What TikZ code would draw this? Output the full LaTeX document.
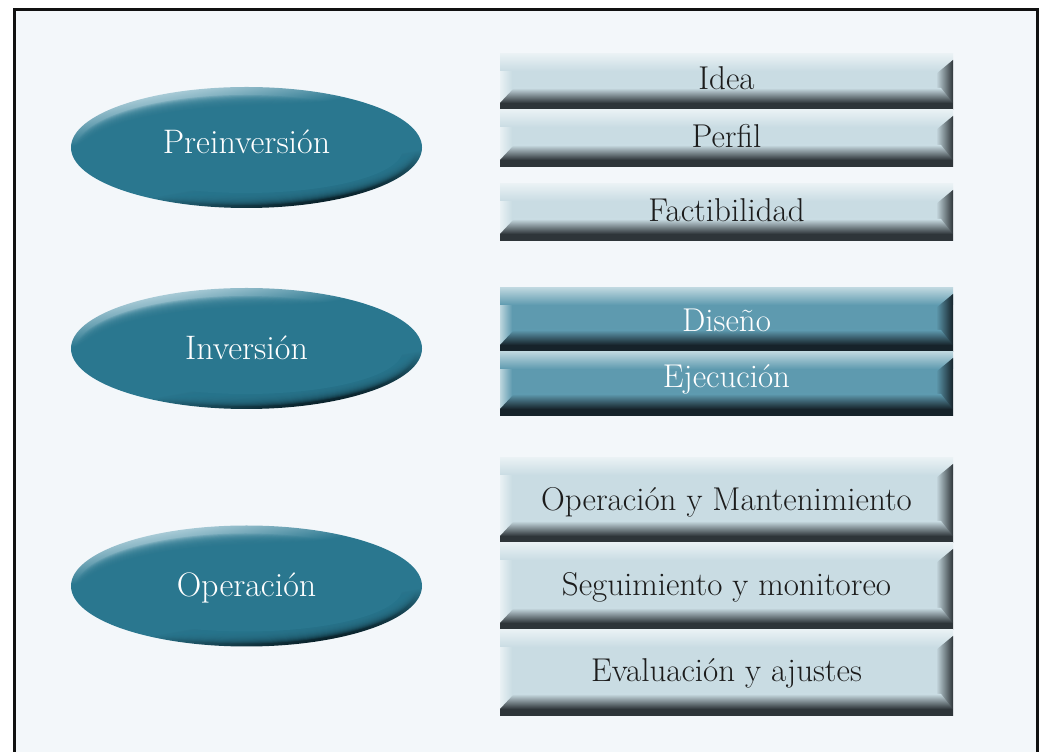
\documentclass[tikz,border=0pt]{standalone}
\usetikzlibrary{shapes.geometric,calc}
\definecolor{bg}{HTML}{F3F7FA}
\definecolor{framec}{HTML}{111111}
\definecolor{ovtop}{HTML}{B8D5DF}
\definecolor{ovmain}{HTML}{2A778F}
\definecolor{ovbot}{HTML}{04141A}
\definecolor{lbase}{HTML}{C9DCE3}
\definecolor{lhi}{HTML}{E9F1F4}
\definecolor{ldark}{HTML}{2E3539}
\definecolor{tbase}{HTML}{5E9AAF}
\definecolor{thi}{HTML}{BCD6DE}
\definecolor{tdark}{HTML}{16232A}
\definecolor{ltext}{HTML}{1C1C1C}
\pgfdeclareverticalshading{ovalshade}{100bp}{color(0bp)=(ovbot); color(41bp)=(ovbot); color(46bp)=(ovmain); color(54bp)=(ovmain); color(59bp)=(ovtop); color(100bp)=(ovtop)}
\tikzset{
  oval/.style={ellipse, minimum width=351pt, minimum height=121pt, inner sep=0pt,
    text=white, font=\fontsize{34}{36}\selectfont, text height=24pt,
    path picture={
      \coordinate (c) at (path picture bounding box.center);
      \shade[shading=ovalshade, shading angle=10]
        ($(c)+(-200,-200)$) rectangle ($(c)+(200,200)$);
      \foreach \k in {0,...,11}{
        \fill[ovmain, opacity=0.2] ($(c)+(-1,-2.5)$) ellipse [x radius={(170-1.1*\k)*1pt}, y radius={(55-1.05*\k)*1pt}];
      }
      \fill[ovmain] ($(c)+(-1,-2.5)$) ellipse [x radius=157pt, y radius=43pt];
    }},
  bevel/.style n args={3}{rectangle, minimum width=453pt, inner sep=0pt,
    font=\fontsize{33}{35}\selectfont, text height=24pt,
    path picture={
      \coordinate (sw) at (path picture bounding box.south west);
      \coordinate (ne) at (path picture bounding box.north east);
      \fill[#1] (sw) rectangle (ne);
      \shade[left color=#2, right color=#1] (sw) rectangle ($(sw|-ne)+(12,0)$);
      \shade[top color=#2, bottom color=#1] ($(sw|-ne)+(0,-17)$) rectangle (ne);
      \shade[left color=#1, right color=#3] ($(ne|-sw)+(-17,0)$) -- ($(ne)+(-17,-20)$) -- ($(ne)+(0,-6)$) -- (ne|-sw) -- cycle;
      \shade[top color=#1, bottom color=#3] ($(sw)+(14,22)$) -- ($(ne|-sw)+(-12,22)$) -- ($(ne|-sw)+(0,7)$) -- ($(sw)+(0,7)$) -- cycle;
      \fill[#3] (sw) rectangle ($(ne|-sw)+(0,7)$);
    }},
  lightbox/.style={bevel={lbase}{lhi}{ldark}, text=ltext},
  tealbox/.style={bevel={tbase}{thi}{tdark}, text=white},
}
\begin{document}
\begin{tikzpicture}[x=1pt,y=1pt]
  \useasboundingbox (0,0) rectangle (1039,752);
  \fill[bg] (16,0) rectangle (1036.5,741);
  \draw[framec, line width=3pt] (14.5,0) -- (14.5,742.5) -- (1037.5,742.5) -- (1037.5,0);

  \node[oval, text depth=11.6pt] (pre) at (246.5,604.5) {Preinversión};
  \node[oval, text depth=2pt]    (inv) at (246.5,403.5) {Inversión};
  \node[oval, text depth=2.6pt]  (ope) at (246.5,166)   {Operación};

  \node[lightbox, minimum height=56pt, text depth=8.8pt] (idea) at (726.5,670)   {Idea};
  \node[lightbox, minimum height=57pt, text depth=5.8pt] (perf) at (726.5,613.5) {Perfil};
  \node[lightbox, minimum height=57pt, text depth=6.4pt] (fact) at (726.5,539.5) {Factibilidad};

  \node[tealbox, minimum height=64pt, text depth=1.4pt]  (dise) at (726.5,432) {Diseño};
  \node[tealbox, minimum height=64pt, text depth=17.4pt] (ejec) at (726.5,368) {Ejecución};

  \node[lightbox, minimum height=85pt, text depth=4.4pt] (oym)  at (726.5,251.5) {Operación y Mantenimiento};
  \node[lightbox, minimum height=87pt, text depth=6.4pt] (segu) at (726.5,165.5) {Seguimiento y monitoreo};
  \node[lightbox, minimum height=86pt, text depth=6.8pt] (eval) at (726.5,79)    {Evaluación y ajustes};
\end{tikzpicture}
\end{document}
